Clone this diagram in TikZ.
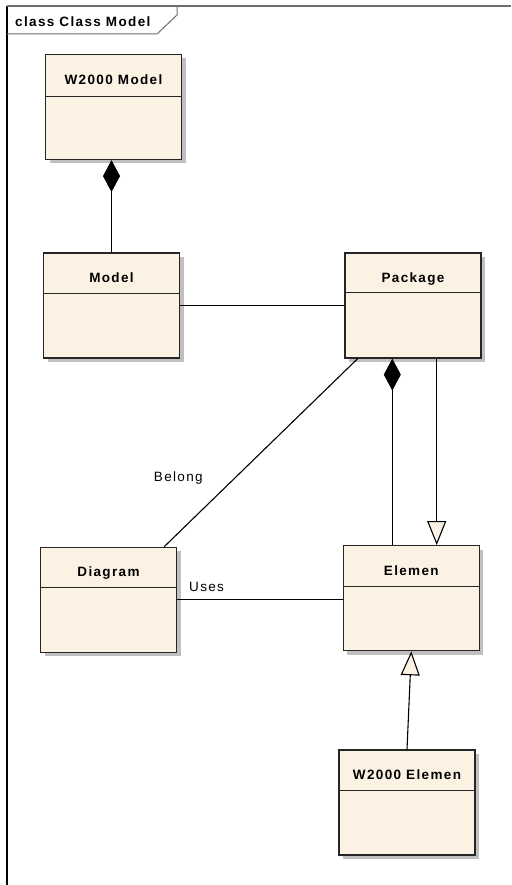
\documentclass[tikz,border=0pt]{standalone}
\usepackage{fontspec}
\setmainfont{Liberation Sans}
\newfontfamily\umlfont{Liberation Sans}[LetterSpace=10]
\usetikzlibrary{arrows.meta,shadows}
\definecolor{classfill}{RGB}{251,242,228}
\definecolor{shadowgray}{RGB}{192,192,192}
\definecolor{framegray}{RGB}{110,110,110}
\tikzset{
  cls/.style ={draw=black!85, line width=1.2pt, fill=classfill, minimum width=136pt,
               minimum height=105pt, inner sep=0pt,
               drop shadow={shadow xshift=4pt, shadow yshift=-4pt, fill=shadowgray, opacity=1}},
  ttl/.style ={anchor=base, inner sep=0pt, font=\umlfont\bfseries\fontsize{13.5}{15}\selectfont},
  lbl/.style ={anchor=base, inner sep=0pt, font=\umlfont\fontsize{13.5}{15}\selectfont},
  conn/.style={line width=1.1pt, black},
  comp/.style={conn, -{Diamond[length=32pt,width=17pt]}},
  gen/.style ={conn, -{Triangle[length=24pt,width=19pt,fill=classfill]}}
}
\begin{document}
\begin{tikzpicture}[x=1pt, y=-1pt]
\useasboundingbox (0,0) rectangle (511,885);
% frame and its tab
\draw[line width=1.3pt, black] (7,885) -- (7,6);
\draw[line width=1.3pt, framegray] (7,6) -- (511,6);
\draw[line width=1pt, framegray] (7,34) -- (157,34) -- (177,15) -- (177,6);
\node[ttl, anchor=base west] (frm) at (15,26.7) {class Class Model};

% classes
\node[cls] (wmodel)  at (113.5,107)   {};
\node[cls] (model)   at (111.5,305.5) {};
\node[cls] (package) at (413,305.5)   {};
\node[cls] (diagram) at (108.5,599.7) {};
\node[cls] (elemen)  at (411.3,598.2) {};
\node[cls] (welemen) at (407,802.5)   {};
\foreach \c/\t in {wmodel/W2000 Model, model/Model, package/Package,
                   diagram/Diagram, elemen/Elemen, welemen/W2000 Elemen}
  \node[ttl] (\c-t) at ([yshift=-30.3pt]\c.north) {\t};
\foreach \c/\d in {wmodel/43, model/41, package/40, diagram/41, elemen/41, welemen/41}
  \draw[draw=black!85, line width=1.1pt] ([yshift=-\d pt]\c.north west) -- ([yshift=-\d pt]\c.north east);

% connectors
\draw[comp] (model.north) -- (model.north |- wmodel.south);
\draw[conn] (model.east) -- (package.west);
\draw[comp] ([xshift=-19pt]elemen.north) -- ([xshift=-19pt]elemen.north |- package.south);
\draw[gen]  ([xshift=23.7pt]package.south) -- ([xshift=23.7pt]package.south |- elemen.north);
\draw[conn] ([xshift=55.8pt]diagram.north) -- ([xshift=-55.3pt]package.south);
\node[lbl] (belong) at (178.3,481.7) {Belong};
\draw[conn] (diagram.east) -- (diagram.east -| elemen.west);
\node[lbl, anchor=base west] (uses) at (189,591) {Uses};
\draw[gen]  (welemen.north) -- (elemen.south);
\end{tikzpicture}
\end{document}
